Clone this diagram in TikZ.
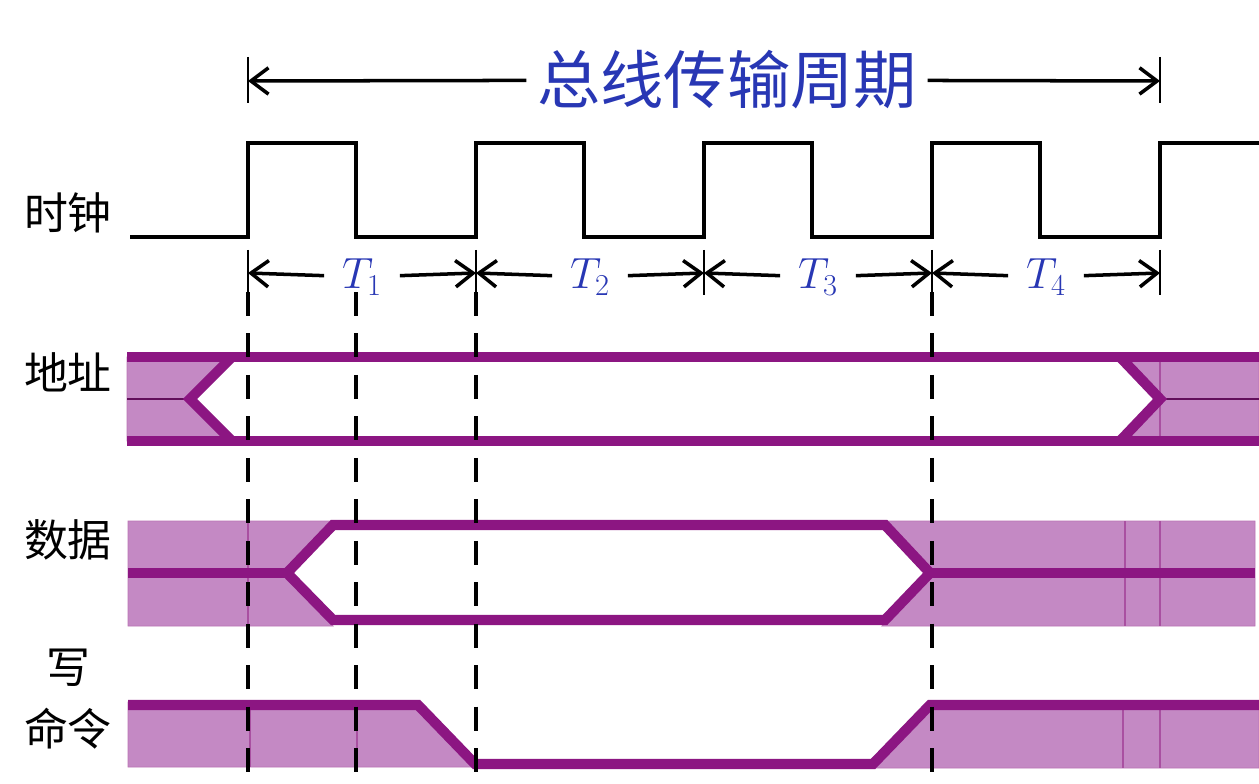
\documentclass[tikz,border=0pt]{standalone}
\usepackage{fontspec}
\newfontfamily\cjk{Noto Sans CJK SC}
\usetikzlibrary{arrows.meta,calc}
\definecolor{busline}{RGB}{140,22,130}
\definecolor{busfill}{RGB}{196,137,196}
\definecolor{labelblue}{RGB}{40,55,180}

\begin{document}
\begin{tikzpicture}[x=0.02cm,y=-0.02cm,
    clk/.style={line width=2.7pt, line join=miter},
    dim/.style={line width=2pt, -{Straight Barb[length=10pt,width=15pt,line width=2pt]}},
    tickmark/.style={line width=1.3pt},
    guide/.style={line width=2.6pt, dash pattern=on 13.6pt off 10pt},
    sig/.style={draw=busline, line width=5.8pt, line join=miter},
    hold/.style={fill=busfill, draw=busline!60, line width=0.5pt},
    sepline/.style={draw=busline!75, line width=0.7pt},
    midline/.style={draw=busline!70!black, line width=1.1pt},
    signame/.style={font=\cjk\fontsize{25}{35}\selectfont, align=center},
    period/.style={font=\fontsize{26}{30}\selectfont, text=labelblue, inner xsep=10pt},
  ]
  \useasboundingbox (0,0) rectangle (1259,784);
  \fill[white] (0,0) rectangle (1259,784);

  % labels on the left
  \node[signame] (clkname) at (68,213) {时钟};
  \node[signame] (addrname) at (68,372) {地址};
  \node[signame] (dataname) at (68,540) {数据};
  \node[signame] (wrname) at (68,699) {写\\命令};

  % bus cycle
  \coordinate (cs) at (248,81);
  \coordinate (ce) at (1160,81);
  \node[font=\cjk\fontsize{36}{40}\selectfont, text=labelblue, inner xsep=6pt] (cycle) at (727,80) {总线传输周期};
  \draw[dim] (cycle) -- (cs);
  \draw[dim] (cycle) -- (ce);
  \draw[tickmark] (248,57) -- (248,103);
  \draw[tickmark] (1160,57) -- (1160,103);

  % clock
  \draw[clk] (130,237) \foreach \x in {248,476,704,932} {
      -- (\x,237) -- (\x,143) -- (\x+108,143) -- (\x+108,237) }
    -- (1160,237) -- (1160,143) -- (1259,143);

  % periods T1..T4
  \foreach \i/\x in {0/248,1/476,2/704,3/932,4/1160} {
    \coordinate (c\i) at (\x,273);
    \draw[tickmark] (\x,250) -- (\x,295);
  }
  \foreach \i/\x in {1/362,2/590,3/818,4/1046} {
    \node[period] (T\i) at (\x,277) {$T_\i$};
  }
  \draw[dim] (T1) -- (c0);  \draw[dim] (T1) -- (c1);
  \draw[dim] (T2) -- (c1);  \draw[dim] (T2) -- (c2);
  \draw[dim] (T3) -- (c2);  \draw[dim] (T3) -- (c3);
  \draw[dim] (T4) -- (c3);  \draw[dim] (T4) -- (c4);

  % address
  \filldraw[hold] (127,357) -- (232,357) -- (190,399) -- (232,441) -- (127,441) -- cycle;
  \filldraw[hold] (1259,357) -- (1120,357) -- (1160,399) -- (1120,441) -- (1259,441) -- cycle;
  \draw[sepline] (1160,357) -- (1160,441);
  \draw[midline] (127,399) -- (190,399);
  \draw[midline] (1160,399) -- (1259,399);
  \draw[sig] (127,357) -- (1259,357);
  \draw[sig] (127,441) -- (1259,441);
  \draw[sig] (232,357) -- (190,399) -- (232,441);
  \draw[sig] (1120,357) -- (1160,399) -- (1120,441);

  % data
  \filldraw[hold] (128,521) -- (333,521) -- (287,573) -- (333,626) -- (128,626) -- cycle;
  \filldraw[hold] (882,521) -- (1255,521) -- (1255,626) -- (882,626) -- (930,573) -- cycle;
  \draw[sepline] (248,521) -- (248,626);
  \draw[sepline] (1125,521) -- (1125,626);
  \draw[sepline] (1160,521) -- (1160,626);
  \draw[sig] (333,525) -- (885,525) -- (930,573) -- (885,620) -- (333,620) -- (287,573) -- cycle;
  \draw[sig] (128,573) -- (287,573);
  \draw[sig] (930,573) -- (1255,573);

  % write command
  \filldraw[hold] (128,702) -- (418,702) -- (475,767) -- (128,767) -- cycle;
  \filldraw[hold] (930,702) -- (1259,702) -- (1259,768) -- (873,768) -- cycle;
  \draw[sepline] (250,702) -- (250,767);
  \draw[sepline] (357,702) -- (357,767);
  \draw[sepline] (1123,702) -- (1123,768);
  \draw[sepline] (1160,702) -- (1160,768);
  \draw[sig] (128,705) -- (418,705) -- (475,764) -- (873,764) -- (930,705) -- (1259,705);

  % guides
  \foreach \x in {248,356,476,932} {
    \draw[guide] (\x,292) -- (\x,780);
  }
\end{tikzpicture}
\end{document}
